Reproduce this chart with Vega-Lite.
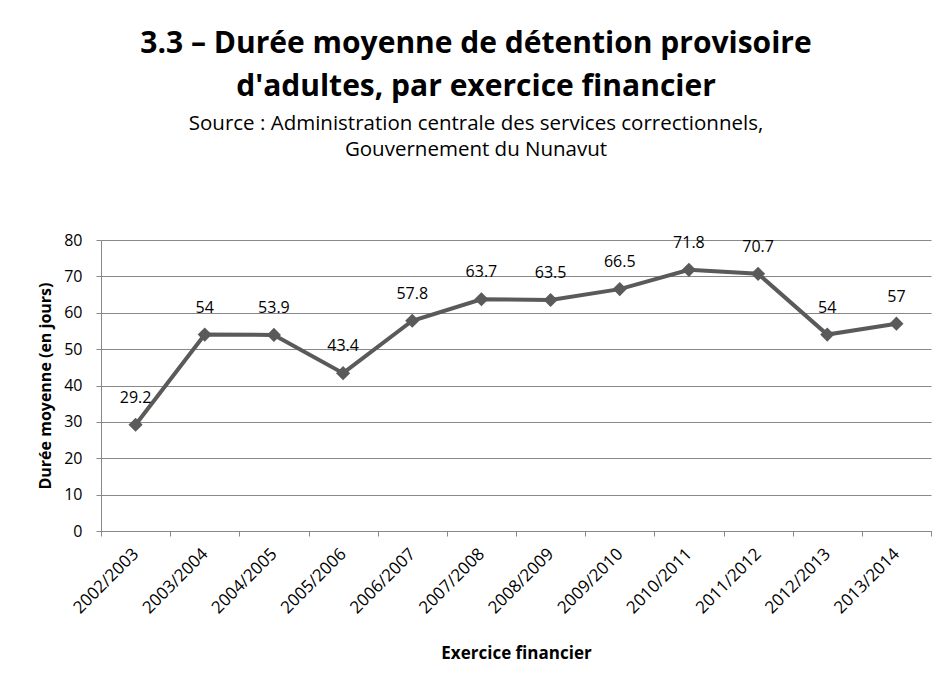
{
  "$schema": "https://vega.github.io/schema/vega-lite/v6.json",
  "width": 830,
  "height": 291,
  "autosize": {"type": "none"},
  "padding": {"left": 101, "top": 240, "right": 9, "bottom": 144},
  "background": "white",
  "title": {
    "text": ["3.3 – Durée moyenne de détention provisoire", "d'adultes, par exercice financier"],
    "subtitle": ["Source : Administration centrale des services correctionnels,", "Gouvernement du Nunavut"],
    "anchor": "middle",
    "dx": -40,
    "offset": 72,
    "font": "Open Sans",
    "fontSize": 30,
    "fontWeight": "bold",
    "lineHeight": 43,
    "color": "#000000",
    "subtitleFont": "Open Sans",
    "subtitleFontSize": 20.5,
    "subtitleLineHeight": 26,
    "subtitleColor": "#000000",
    "subtitlePadding": 12
  },
  "data": {
    "values": [
      {"exercice": "2002/2003", "duree": 29.2},
      {"exercice": "2003/2004", "duree": 54},
      {"exercice": "2004/2005", "duree": 53.9},
      {"exercice": "2005/2006", "duree": 43.4},
      {"exercice": "2006/2007", "duree": 57.8},
      {"exercice": "2007/2008", "duree": 63.7},
      {"exercice": "2008/2009", "duree": 63.5},
      {"exercice": "2009/2010", "duree": 66.5},
      {"exercice": "2010/2011", "duree": 71.8},
      {"exercice": "2011/2012", "duree": 70.7},
      {"exercice": "2012/2013", "duree": 54},
      {"exercice": "2013/2014", "duree": 57}
    ]
  },
  "encoding": {
    "x": {
      "field": "exercice",
      "type": "ordinal",
      "sort": null,
      "scale": {"paddingInner": 0, "paddingOuter": 0},
      "axis": {
        "title": "Exercice financier",
        "titleFont": "Open Sans",
        "titleFontSize": 17,
        "titleFontWeight": "bold",
        "titleColor": "#000000",
        "titlePadding": 29,
        "labelAngle": -45,
        "labelAlign": "right",
        "labelBaseline": "middle",
        "labelFont": "Open Sans",
        "labelFontSize": 17,
        "labelColor": "#000000",
        "labelPadding": 15,
        "domainColor": "#888888",
        "tickColor": "#888888",
        "tickBand": "extent",
        "tickSize": 5,
        "grid": false
      }
    },
    "y": {
      "field": "duree",
      "type": "quantitative",
      "scale": {"domain": [0, 80], "nice": false},
      "axis": {
        "title": "Durée moyenne  (en jours)",
        "titleFont": "Open Sans",
        "titleFontSize": 16,
        "titleFontWeight": "bold",
        "titleColor": "#000000",
        "titlePadding": 10,
        "values": [0, 10, 20, 30, 40, 50, 60, 70, 80],
        "labelFont": "Open Sans",
        "labelFontSize": 16,
        "labelColor": "#000000",
        "labelPadding": 14,
        "domainColor": "#888888",
        "tickColor": "#888888",
        "tickSize": 5,
        "grid": true,
        "gridColor": "#888888",
        "gridWidth": 1
      }
    }
  },
  "layer": [
    {
      "mark": {"type": "line", "color": "#5a5a5a", "strokeWidth": 4}
    },
    {
      "mark": {"type": "point", "shape": "diamond", "filled": true, "color": "#5a5a5a", "size": 200, "opacity": 1}
    },
    {
      "mark": {"type": "text", "dy": -27, "font": "Open Sans", "fontSize": 16, "color": "#000000"},
      "encoding": {"text": {"field": "duree", "type": "quantitative"}}
    }
  ],
  "config": {
    "view": {"stroke": null}
  }
}
